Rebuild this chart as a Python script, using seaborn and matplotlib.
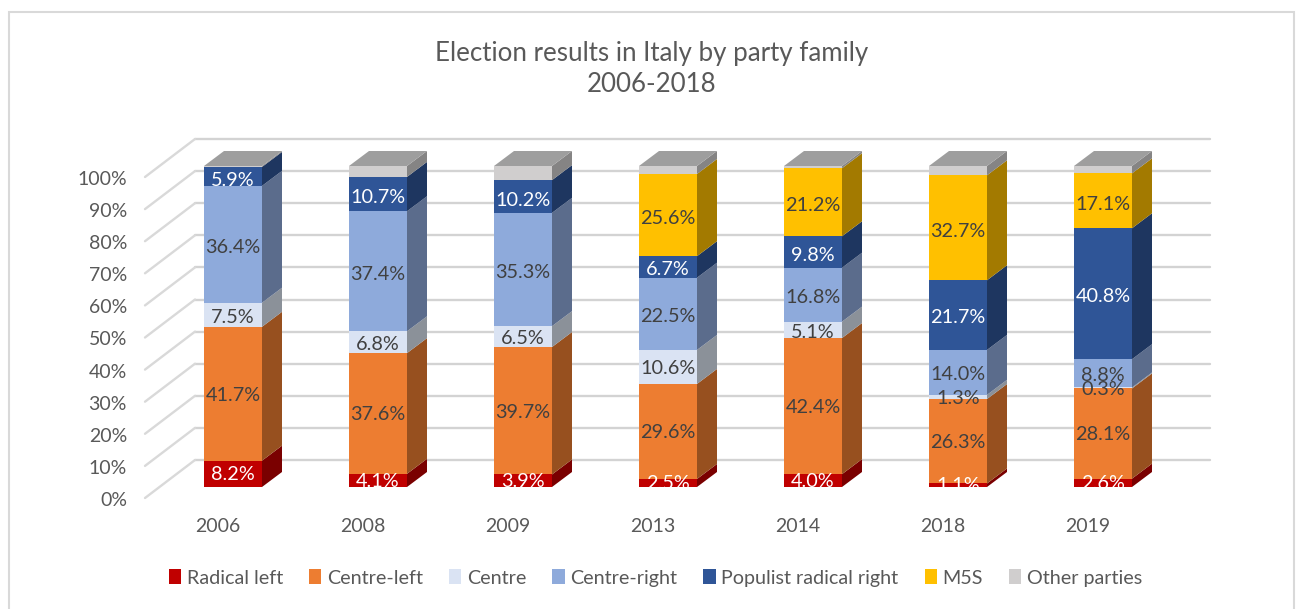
import numpy as np
import matplotlib
matplotlib.use("Agg")
import matplotlib.pyplot as plt
from matplotlib.patches import Rectangle
from matplotlib.transforms import Bbox, TransformedBbox
import seaborn as sns

years = ["2006", "2008", "2009", "2013", "2014", "2018", "2019"]
radical_left = [8.2, 4.1, 3.9, 2.5, 4.0, 1.1, 2.6]
centre_left = [41.7, 37.6, 39.7, 29.6, 42.4, 26.3, 28.1]
centre = [7.5, 6.8, 6.5, 10.6, 5.1, 1.3, 0.3]
centre_right = [36.4, 37.4, 35.3, 22.5, 16.8, 14.0, 8.8]
populist_right = [5.9, 10.7, 10.2, 6.7, 9.8, 21.7, 40.8]
m5s = [0, 0, 0, 25.6, 21.2, 32.7, 17.1]
other = [0.3, 3.4, 4.4, 2.5, 0.7, 2.9, 2.3]
names = ["Radical left", "Centre-left", "Centre", "Centre-right",
         "Populist radical right", "M5S", "Other parties"]
series = [radical_left, centre_left, centre, centre_right, populist_right, m5s, other]
colors = ["#C00000", "#ED7D31", "#DAE3F3", "#8EAADB", "#2F5597", "#FFC000", "#D0CECE"]
side_colors = ["#7A0000", "#97501F", "#8B9199", "#5B6C8C", "#1E3660", "#A37A00", "#858484"]
label_colors = ["white", "#404040", "#404040", "#404040", "white", "#404040", None]
pct_ticks = list(range(0, 101, 10))

FONT = "Lato"
W, H = 1298, 609
sns.set_theme(style="white")
plt.rcParams["font.family"] = [FONT, "DejaVu Sans"]
fig = plt.figure(figsize=(W / 100, H / 100), dpi=100)

# pixel geometry of the plotting plane
PX_Y0, PX_Y100 = 487.0, 166.0
PX_PER_PCT = (PX_Y0 - PX_Y100) / 100
PX_X0, PX_STEP = 233.0, 145.0
L, R, T, B = 145.0, 1210.0, 139.0, 501.0
ax = fig.add_axes([L / W, 1 - B / H, (R - L) / W, (B - T) / H])
ax.set_facecolor("none")
to_x = lambda dpx: dpx / PX_STEP
to_y = lambda dpx: dpx / PX_PER_PCT

# depth offsets of the back wall and the bars
front_dy = to_y(-11)
wall_dx, wall_dy = to_x(50), to_y(27)
bar_w = 58 / PX_STEP
bar_dx, bar_dy = to_x(20), to_y(15)

# walls
x_left = (L - PX_X0) / PX_STEP
x_right = (R - PX_X0) / PX_STEP
for p in pct_ticks:
    ax.plot([x_left + wall_dx, x_right], [p + wall_dy, p + wall_dy], color="#D3D3D3", lw=1.7, zorder=1, clip_on=False)
    ax.plot([x_left, x_left + wall_dx], [p + front_dy, p + wall_dy], color="#D9D9D9", lw=1.7, zorder=1, clip_on=False)

# bars
bottoms = np.zeros(len(years))
for vals, name, col, side, lab in zip(series, names, colors, side_colors, label_colors):
    vals = np.array(vals, dtype=float)
    sns.barplot(x=years, y=vals, bottom=bottoms, color=col, saturation=1, width=bar_w,
                ax=ax, label=name, zorder=3, linewidth=0)
    for i, (v, b) in enumerate(zip(vals, bottoms)):
        if v == 0:
            continue
        xr = i + bar_w / 2
        ax.fill([xr, xr + bar_dx, xr + bar_dx, xr], [b, b + bar_dy, b + v + bar_dy, b + v],
                color=side, lw=0, zorder=3, clip_on=False)
        if lab:
            t = ax.text(i, (b + v / 2) * 0.99 - 0.2, f"{v:.1f}%", ha="center", va="center", color=lab,
                        fontsize=14.3, zorder=5)
            t.set_clip_box(TransformedBbox(Bbox([[i - 1, 0], [i + 1, 120]]), ax.transData))
            t.set_clip_on(True)
    bottoms = bottoms + vals

# top faces
for i, top in enumerate(bottoms):
    xl, xr = i - bar_w / 2, i + bar_w / 2
    ax.fill([xl, xr, xr + bar_dx, xl + bar_dx], [top, top, top + bar_dy, top + bar_dy],
            color="#9E9E9E", lw=0, zorder=4, clip_on=False)

ax.set_xticks(np.arange(len(years)) - to_x(15), years)
ax.set_yticks([p + front_dy - 0.3 for p in pct_ticks], [f"{p}%" for p in pct_ticks])
ax.set_xlim(x_left, x_right)
ax.set_ylim((PX_Y0 - B) / PX_PER_PCT, (PX_Y0 - T) / PX_PER_PCT)
ax.tick_params(axis="x", length=0, pad=12.5, labelsize=14.0, labelcolor="#595959")
ax.tick_params(axis="y", length=0, pad=13, labelsize=14.0, labelcolor="#595959")
ax.set_xlabel("")
ax.set_ylabel("")
sns.despine(ax=ax, left=True, bottom=True)

handles, labels = ax.get_legend_handles_labels()
fig.legend(handles, labels, ncol=7, loc="center", bbox_to_anchor=(655.5 / W, 1 - 578 / H),
           frameon=False, fontsize=14.2, labelcolor="#595959", handlelength=0.62, handleheight=0.8,
           handletextpad=0.28, columnspacing=1.33)
ax.legend_.remove() if ax.legend_ else None

fig.text(652 / W, 1 - 53 / H, "Election results in Italy by party family", ha="center", va="center",
         fontsize=18.6, color="#595959")
fig.text(652 / W, 1 - 85 / H, "2006-2018", ha="center", va="center", fontsize=18.6, color="#595959")

fig.add_artist(Rectangle((8.5 / W, -0.05), (1294 - 8.5) / W, 1.05 - 12 / H, transform=fig.transFigure,
                         fill=False, ec="#D9D9D9", lw=1.5))
fig.savefig("out.png", dpi=100)
